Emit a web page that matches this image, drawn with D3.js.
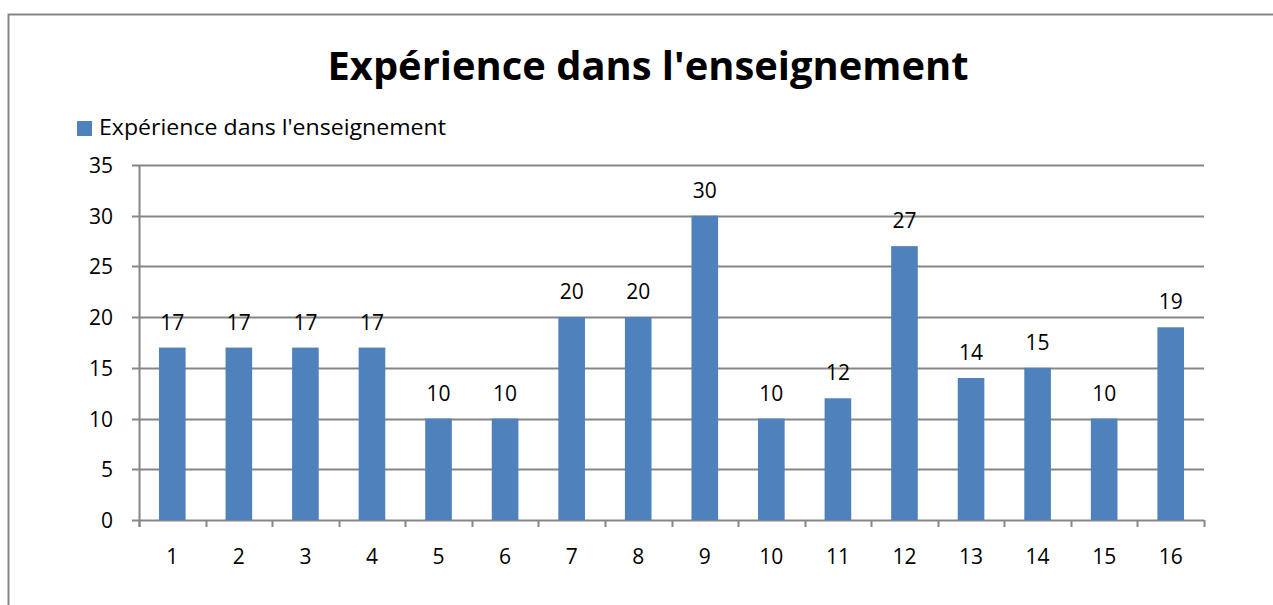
<!DOCTYPE html>
<html>
<head>
<meta charset="utf-8">
<script src="https://cdn.jsdelivr.net/npm/d3@7"></script>
<style>
	body { margin: 0; background: #fff; }
	text { font-family: "Open Sans", "Noto Sans", sans-serif; fill: #000; }
</style>
</head>
<body>
<div id="chart"></div>
<script>
var title = "Expérience dans l'enseignement";
var seriesName = "Expérience dans l'enseignement";
var categories = ["1", "2", "3", "4", "5", "6", "7", "8", "9", "10", "11", "12", "13", "14", "15", "16"];
var values = [17, 17, 17, 17, 10, 10, 20, 20, 30, 10, 12, 27, 14, 15, 10, 19];
var yTicks = [0, 5, 10, 15, 20, 25, 30, 35];

var width = 1273;
var height = 605;
var plotLeft = 139, plotRight = 1204, plotTop = 165, plotBottom = 520;

var svg = d3.select("#chart")
	.append("svg")
	.attr("width", width)
	.attr("height", height);

// chart area border (only top and left show in the frame)
svg.append("rect")
	.attr("x", 8.5)
	.attr("y", 14.5)
	.attr("width", 1300)
	.attr("height", 700)
	.attr("fill", "none")
	.attr("stroke", "#868686")
	.attr("stroke-width", 2);

svg.append("text")
	.attr("x", 648)
	.attr("y", 80)
	.attr("text-anchor", "middle")
	.attr("textLength", 641)
	.attr("lengthAdjust", "spacingAndGlyphs")
	.style("font-size", "39px")
	.style("font-weight", "bold")
	.text(title);

// legend
svg.append("rect")
	.attr("x", 77)
	.attr("y", 121)
	.attr("width", 15)
	.attr("height", 15)
	.attr("fill", "#4F81BD");
svg.append("text")
	.attr("x", 99)
	.attr("y", 135)
	.attr("textLength", 347)
	.attr("lengthAdjust", "spacingAndGlyphs")
	.style("font-size", "21px")
	.text(seriesName);

var x = d3.scaleBand().domain(categories).range([plotLeft, plotRight]);
var y = d3.scaleLinear().domain([0, 35]).range([plotBottom, plotTop]);

// gridlines
svg.append("g")
	.selectAll("line")
	.data(yTicks)
	.enter()
	.append("line")
	.attr("x1", plotLeft - 7)
	.attr("x2", plotRight)
	.attr("y1", function (d) { return Math.round(y(d)) + 0.5; })
	.attr("y2", function (d) { return Math.round(y(d)) + 0.5; })
	.attr("stroke", "#868686")
	.attr("stroke-width", 2);

// y axis line
svg.append("line")
	.attr("x1", plotLeft + 0.5).attr("x2", plotLeft + 0.5)
	.attr("y1", plotTop).attr("y2", plotBottom + 7)
	.attr("stroke", "#868686")
	.attr("stroke-width", 2);

// x ticks at band boundaries
var boundaries = categories.map(function (c) { return x(c); }).concat([plotRight]);
svg.append("g")
	.selectAll("line")
	.data(boundaries)
	.enter()
	.append("line")
	.attr("x1", function (d) { return Math.round(d) + 0.5; })
	.attr("x2", function (d) { return Math.round(d) + 0.5; })
	.attr("y1", plotBottom)
	.attr("y2", plotBottom + 7)
	.attr("stroke", "#868686")
	.attr("stroke-width", 2);

// y tick labels
svg.append("g")
	.selectAll("text")
	.data(yTicks)
	.enter()
	.append("text")
	.attr("x", 113)
	.attr("y", function (d) { return y(d) + 8; })
	.attr("text-anchor", "end")
	.style("font-size", "21px")
	.text(function (d) { return d; });

// bars
svg.append("g")
	.selectAll("rect")
	.data(values)
	.enter()
	.append("rect")
	.attr("x", function (d, i) { return x(categories[i]) + x.bandwidth() * 0.3; })
	.attr("width", x.bandwidth() * 0.4)
	.attr("y", function (d) { return y(d); })
	.attr("height", function (d) { return y(0) - y(d); })
	.attr("fill", "#4F81BD");

// data labels
svg.append("g")
	.selectAll("text")
	.data(values)
	.enter()
	.append("text")
	.attr("x", function (d, i) { return x(categories[i]) + x.bandwidth() / 2; })
	.attr("y", function (d) { return y(d) - 18; })
	.attr("text-anchor", "middle")
	.style("font-size", "21px")
	.text(function (d) { return d; });

// x labels
svg.append("g")
	.selectAll("text")
	.data(categories)
	.enter()
	.append("text")
	.attr("x", function (d) { return x(d) + x.bandwidth() / 2; })
	.attr("y", 564)
	.attr("text-anchor", "middle")
	.style("font-size", "21px")
	.text(function (d) { return d; });
</script>
</body>
</html>
